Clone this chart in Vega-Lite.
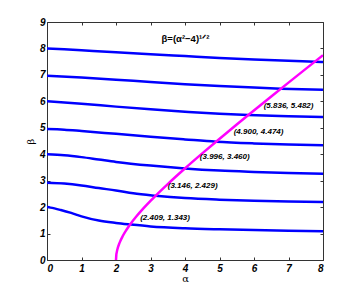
{
  "$schema": "https://vega.github.io/schema/vega-lite/v6.json",
  "width": 276,
  "height": 238,
  "autosize": {"type": "none"},
  "padding": {"left": 47, "top": 22, "right": 34, "bottom": 34},
  "background": "white",
  "config": {
    "view": {"stroke": "#333", "strokeWidth": 1},
    "font": "Liberation Sans"
  },
  "datasets": {
    "curves": [
      {"s": "c2", "a": 0, "b": 2.0}, {"s": "c2", "a": 0.1, "b": 1.98}, {"s": "c2", "a": 0.4, "b": 1.89}, {"s": "c2", "a": 0.7, "b": 1.78}, {"s": "c2", "a": 1, "b": 1.65}, {"s": "c2", "a": 1.5, "b": 1.49}, {"s": "c2", "a": 2, "b": 1.4}, {"s": "c2", "a": 2.409, "b": 1.343}, {"s": "c2", "a": 3, "b": 1.27}, {"s": "c2", "a": 4, "b": 1.2}, {"s": "c2", "a": 5, "b": 1.16}, {"s": "c2", "a": 6, "b": 1.13}, {"s": "c2", "a": 7, "b": 1.11}, {"s": "c2", "a": 8, "b": 1.09},
      {"s": "c3", "a": 0, "b": 2.92}, {"s": "c3", "a": 0.5, "b": 2.89}, {"s": "c3", "a": 1, "b": 2.82}, {"s": "c3", "a": 1.5, "b": 2.72}, {"s": "c3", "a": 2, "b": 2.63}, {"s": "c3", "a": 2.5, "b": 2.52}, {"s": "c3", "a": 3.146, "b": 2.429}, {"s": "c3", "a": 4, "b": 2.34}, {"s": "c3", "a": 5, "b": 2.28}, {"s": "c3", "a": 6, "b": 2.24}, {"s": "c3", "a": 7, "b": 2.21}, {"s": "c3", "a": 8, "b": 2.19},
      {"s": "c4", "a": 0, "b": 4.0}, {"s": "c4", "a": 0.5, "b": 3.96}, {"s": "c4", "a": 1, "b": 3.89}, {"s": "c4", "a": 1.5, "b": 3.8}, {"s": "c4", "a": 2, "b": 3.71}, {"s": "c4", "a": 3, "b": 3.57}, {"s": "c4", "a": 3.996, "b": 3.46}, {"s": "c4", "a": 5, "b": 3.38}, {"s": "c4", "a": 6, "b": 3.33}, {"s": "c4", "a": 7, "b": 3.29}, {"s": "c4", "a": 8, "b": 3.26},
      {"s": "c5", "a": 0, "b": 4.95}, {"s": "c5", "a": 0.5, "b": 4.93}, {"s": "c5", "a": 1, "b": 4.88}, {"s": "c5", "a": 2, "b": 4.77}, {"s": "c5", "a": 3, "b": 4.66}, {"s": "c5", "a": 4, "b": 4.56}, {"s": "c5", "a": 4.9, "b": 4.474}, {"s": "c5", "a": 6, "b": 4.41}, {"s": "c5", "a": 7, "b": 4.37}, {"s": "c5", "a": 8, "b": 4.34},
      {"s": "c6", "a": 0, "b": 6.0}, {"s": "c6", "a": 1, "b": 5.91}, {"s": "c6", "a": 2, "b": 5.8}, {"s": "c6", "a": 3, "b": 5.7}, {"s": "c6", "a": 4, "b": 5.61}, {"s": "c6", "a": 5, "b": 5.53}, {"s": "c6", "a": 5.836, "b": 5.482}, {"s": "c6", "a": 7, "b": 5.44}, {"s": "c6", "a": 8, "b": 5.41},
      {"s": "c7", "a": 0, "b": 6.97}, {"s": "c7", "a": 1, "b": 6.9}, {"s": "c7", "a": 2, "b": 6.82}, {"s": "c7", "a": 3, "b": 6.73}, {"s": "c7", "a": 4, "b": 6.65}, {"s": "c7", "a": 5, "b": 6.58}, {"s": "c7", "a": 6, "b": 6.52}, {"s": "c7", "a": 6.78, "b": 6.48}, {"s": "c7", "a": 8, "b": 6.44},
      {"s": "c8", "a": 0, "b": 8.0}, {"s": "c8", "a": 1, "b": 7.93}, {"s": "c8", "a": 2, "b": 7.86}, {"s": "c8", "a": 3, "b": 7.78}, {"s": "c8", "a": 4, "b": 7.71}, {"s": "c8", "a": 5, "b": 7.64}, {"s": "c8", "a": 6, "b": 7.58}, {"s": "c8", "a": 7, "b": 7.53}, {"s": "c8", "a": 7.77, "b": 7.5}, {"s": "c8", "a": 8, "b": 7.49}
    ],
    "magenta": [
      {"a": 2.0, "b": 0}, {"a": 2.01, "b": 0.2}, {"a": 2.02, "b": 0.28}, {"a": 2.05, "b": 0.45}, {"a": 2.1, "b": 0.64}, {"a": 2.2, "b": 0.917}, {"a": 2.3, "b": 1.136}, {"a": 2.409, "b": 1.343}, {"a": 2.6, "b": 1.661}, {"a": 2.8, "b": 1.96}, {"a": 3.0, "b": 2.236}, {"a": 3.146, "b": 2.429}, {"a": 3.5, "b": 2.872}, {"a": 3.996, "b": 3.46}, {"a": 4.5, "b": 4.031}, {"a": 4.9, "b": 4.474}, {"a": 5.5, "b": 5.123}, {"a": 5.836, "b": 5.482}, {"a": 6.5, "b": 6.185}, {"a": 7.0, "b": 6.708}, {"a": 7.5, "b": 7.228}, {"a": 8.0, "b": 7.746}
    ],
    "labels": [
      {"a": 2.7, "b": 1.6, "t": "(2.409, 1.343)"},
      {"a": 3.5, "b": 2.79, "t": "(3.146, 2.429)"},
      {"a": 4.43, "b": 3.88, "t": "(3.996, 3.460)"},
      {"a": 5.41, "b": 4.83, "t": "(4.900, 4.474)"},
      {"a": 6.28, "b": 5.81, "t": "(5.836, 5.482)"}
    ],
    "title": [
      {"a": 3.32, "b": 8.35, "t": "β=(α²−4)¹ᐟ²"}
    ]
  },
  "layer": [
    {
      "data": {"name": "curves"},
      "mark": {"type": "line", "color": "#0000ff", "strokeWidth": 2.5, "interpolate": "monotone", "clip": true},
      "encoding": {
        "x": {"field": "a", "type": "quantitative", "scale": {"domain": [0, 8], "nice": false},
          "axis": {"title": "α", "titleFont": "DejaVu Serif", "titleFontSize": 10, "titleFontWeight": "normal", "titlePadding": 0, "values": [0,1,2,3,4,5,6,7,8], "grid": false, "domain": false, "tickSize": -3, "tickColor": "#333", "labelPadding": 6, "labelFontSize": 10, "labelFontWeight": "bold", "labelFontStyle": "italic", "labelColor": "#000"}},
        "y": {"field": "b", "type": "quantitative", "scale": {"domain": [0, 9], "nice": false},
          "axis": {"title": "β", "titleFont": "DejaVu Serif", "titleFontSize": 10, "titleFontWeight": "normal", "titlePadding": 4, "values": [0,1,2,3,4,5,6,7,8,9], "grid": false, "domain": false, "tickSize": -3, "tickColor": "#333", "labelPadding": 5, "labelFontSize": 10, "labelFontWeight": "bold", "labelFontStyle": "italic", "labelColor": "#000"}},
        "detail": {"field": "s"}
      }
    },
    {
      "data": {"name": "magenta"},
      "mark": {"type": "line", "color": "#ff00ff", "strokeWidth": 2.5, "interpolate": "monotone", "clip": true},
      "encoding": {
        "x": {"field": "a", "type": "quantitative", "axis": {"orient": "top", "labels": false, "title": null, "values": [0,1,2,3,4,5,6,7,8], "grid": false, "domain": false, "tickSize": -3, "tickColor": "#333"}},
        "y": {"field": "b", "type": "quantitative", "axis": {"orient": "right", "labels": false, "title": null, "values": [0,1,2,3,4,5,6,7,8,9], "grid": false, "domain": false, "tickSize": -3, "tickColor": "#333"}}
      }
    },
    {
      "data": {"name": "labels"},
      "mark": {"type": "text", "align": "left", "baseline": "middle", "fontSize": 8, "fontWeight": "bold", "fontStyle": "italic", "color": "#000"},
      "encoding": {
        "x": {"field": "a", "type": "quantitative", "axis": null},
        "y": {"field": "b", "type": "quantitative", "axis": null},
        "text": {"field": "t"}
      }
    },
    {
      "data": {"name": "title"},
      "mark": {"type": "text", "align": "left", "baseline": "middle", "fontSize": 9.5, "fontWeight": "bold", "color": "#000"},
      "encoding": {
        "x": {"field": "a", "type": "quantitative", "axis": null},
        "y": {"field": "b", "type": "quantitative", "axis": null},
        "text": {"field": "t"}
      }
    }
  ],
  "resolve": {"axis": {"x": "independent", "y": "independent"}}
}
